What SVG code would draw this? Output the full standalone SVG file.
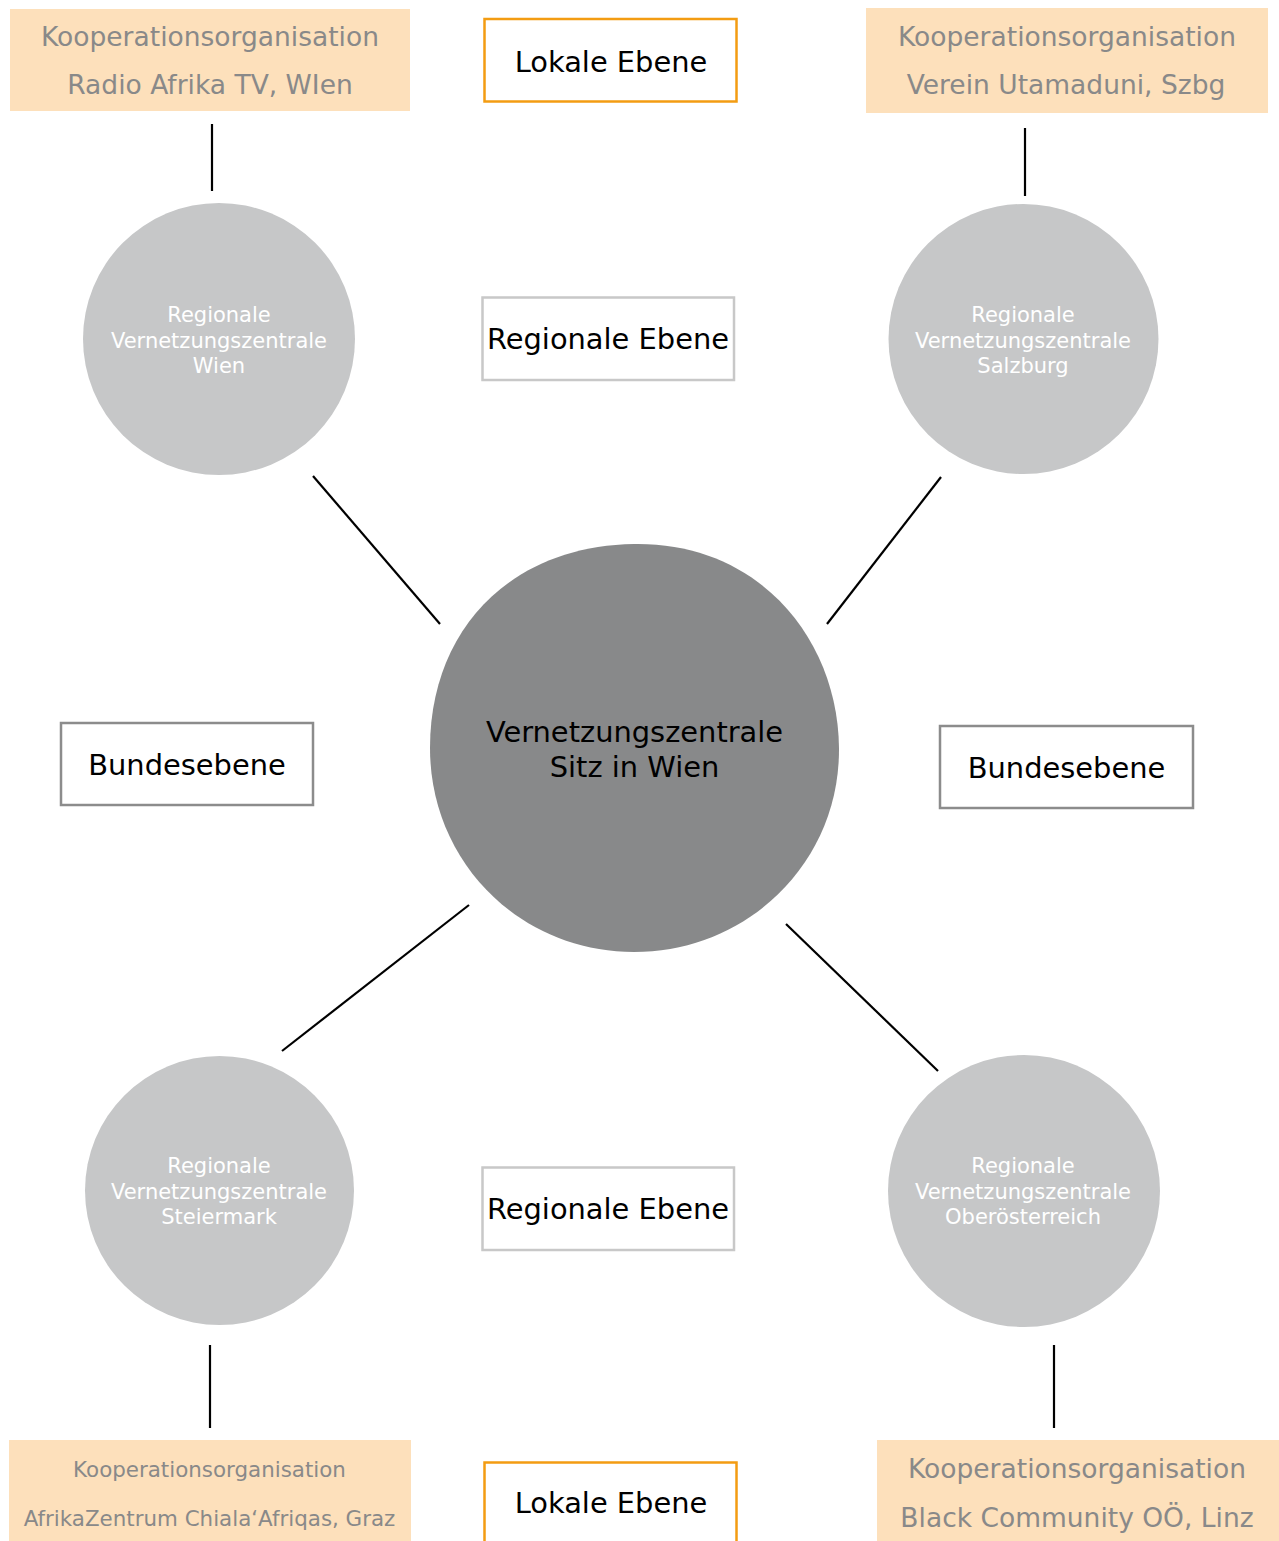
<svg xmlns="http://www.w3.org/2000/svg" width="1279" height="1541" viewBox="0 0 1279 1541">
<style>
text{font-family:"DejaVu Sans","Verdana",sans-serif;text-anchor:middle}
.koop{fill:#fde0bb}
.kt{fill:#898989;font-size:26.5px}
.kts{fill:#898989;font-size:21.4px}
.lbl{fill:#000;font-size:28.9px}
.lok{fill:#fff;stroke:#f39c12;stroke-width:2.5}
.reg{fill:#fff;stroke:#c8c8c8;stroke-width:2.5}
.bund{fill:#fff;stroke:#8c8c8c;stroke-width:2.5}
.rc{fill:#c6c7c8}
.rt{fill:#fff;font-size:21px}
.con line{stroke:#000;stroke-width:2.2}
</style>
<rect width="1279" height="1541" fill="#fff"/>
<g class="con">
<line x1="212" y1="124" x2="212" y2="191"/>
<line x1="1025" y1="128" x2="1025" y2="196"/>
<line x1="313" y1="476" x2="440" y2="624"/>
<line x1="941" y1="477" x2="827" y2="624"/>
<line x1="469" y1="905" x2="282" y2="1051"/>
<line x1="786" y1="924" x2="938" y2="1071"/>
<line x1="210" y1="1345" x2="210" y2="1428"/>
<line x1="1054" y1="1345" x2="1054" y2="1428"/>
</g>
<g id="koop-wien">
<rect class="koop" x="10" y="9" width="400" height="102"/>
<text class="kt" x="210" y="46">Kooperationsorganisation</text>
<text class="kt" x="210" y="94">Radio Afrika TV, WIen</text>
</g>
<g id="lokal-top">
<rect class="lok" x="484.5" y="19" width="252" height="82.5"/>
<text class="lbl" x="611" y="72">Lokale Ebene</text>
</g>
<g id="koop-szbg">
<rect class="koop" x="866" y="8" width="402" height="105"/>
<text class="kt" x="1067" y="46">Kooperationsorganisation</text>
<text class="kt" x="1066" y="94">Verein Utamaduni, Szbg</text>
</g>
<g id="rvz-wien">
<circle class="rc" cx="219" cy="339" r="136"/>
<text class="rt" x="219" y="322">Regionale</text>
<text class="rt" x="219" y="348">Vernetzungszentrale</text>
<text class="rt" x="219" y="373">Wien</text>
</g>
<g id="regional-top">
<rect class="reg" x="482.5" y="297.5" width="251.5" height="82.5"/>
<text class="lbl" x="608" y="349">Regionale Ebene</text>
</g>
<g id="rvz-salzburg">
<circle class="rc" cx="1023.5" cy="339" r="135"/>
<text class="rt" x="1023" y="322">Regionale</text>
<text class="rt" x="1023" y="348">Vernetzungszentrale</text>
<text class="rt" x="1023" y="373">Salzburg</text>
</g>
<g id="zentrale">
<path fill="#88898a" d="M634 544 C760 542 838 640 839 748 C840 862 748 952 634 952 C520 952 430 862 430 748 C430 630 510 546 634 544 Z"/>
<text class="lbl" x="634.5" y="742">Vernetzungszentrale</text>
<text class="lbl" x="634.5" y="777">Sitz in Wien</text>
</g>
<g id="bund-left">
<rect class="bund" x="61" y="723" width="252" height="82"/>
<text class="lbl" x="187" y="775">Bundesebene</text>
</g>
<g id="bund-right">
<rect class="bund" x="940" y="726" width="253" height="82"/>
<text class="lbl" x="1066.5" y="778">Bundesebene</text>
</g>
<g id="rvz-steiermark">
<circle class="rc" cx="219.5" cy="1190.5" r="134.5"/>
<text class="rt" x="219" y="1173">Regionale</text>
<text class="rt" x="219" y="1199">Vernetzungszentrale</text>
<text class="rt" x="219" y="1224">Steiermark</text>
</g>
<g id="regional-bottom">
<rect class="reg" x="482.5" y="1167.5" width="251.5" height="82.5"/>
<text class="lbl" x="608" y="1219">Regionale Ebene</text>
</g>
<g id="rvz-ooe">
<circle class="rc" cx="1024" cy="1191" r="136"/>
<text class="rt" x="1023" y="1173">Regionale</text>
<text class="rt" x="1023" y="1199">Vernetzungszentrale</text>
<text class="rt" x="1023" y="1224">Oberösterreich</text>
</g>
<g id="koop-graz">
<rect class="koop" x="9" y="1440" width="402" height="101"/>
<text class="kts" x="209.5" y="1477">Kooperationsorganisation</text>
<text class="kts" x="209.5" y="1526">AfrikaZentrum Chiala‘Afriqas, Graz</text>
</g>
<g id="lokal-bottom">
<rect class="lok" x="484.5" y="1462.5" width="252" height="90"/>
<text class="lbl" x="611" y="1513">Lokale Ebene</text>
</g>
<g id="koop-linz">
<rect class="koop" x="877" y="1440" width="402" height="101"/>
<text class="kt" x="1077" y="1478">Kooperationsorganisation</text>
<text class="kt" x="1077" y="1527">Black Community OÖ, Linz</text>
</g>
</svg>
